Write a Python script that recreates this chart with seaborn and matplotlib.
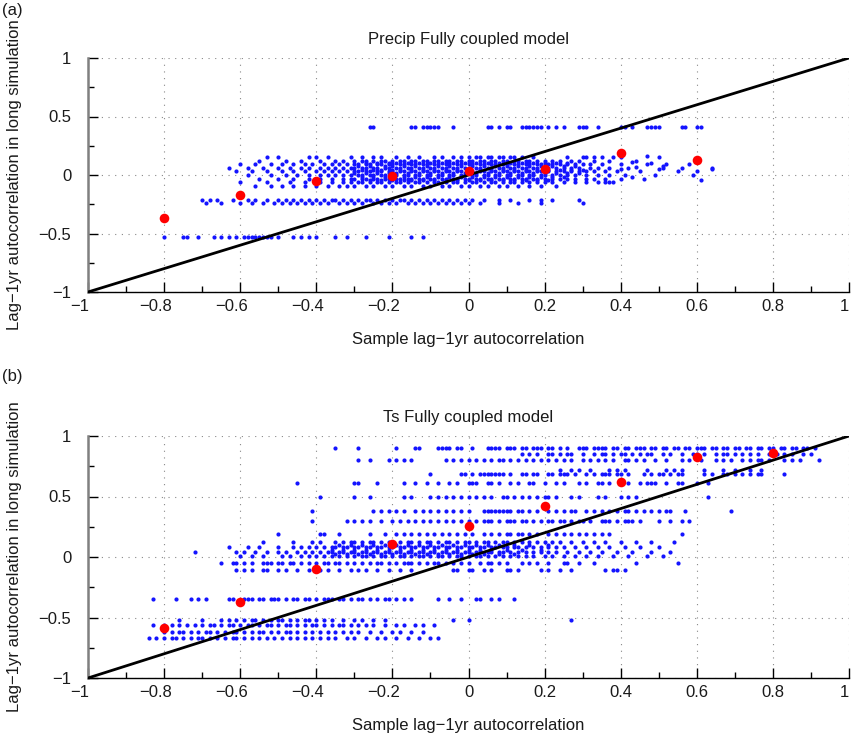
import matplotlib
matplotlib.use("Agg")
import matplotlib.pyplot as plt
import matplotlib.transforms as mtransforms
import seaborn as sns
import pandas as pd
from matplotlib.ticker import MultipleLocator, FuncFormatter

sns.set_theme(style="white")
plt.rcParams['font.family'] = ['Liberation Sans', 'DejaVu Sans']

# ---------------- data (x values in hundredths, grouped by y level in tenths of hundredths) ----
# Panel (a): Precip
A_41 = [-26,-25,-15,-14,-12,-11,-10,-9,-8,-4,5,6,8,10,11,14,15,16,17,18,19,21,23,25,29,30,31,34,40,41,43,47,48,49,50,56,57,60,61]
A_15 = [-53,-50,-42,-40,-37,-31,-28,-25,-23,-19,-16,-13,-9,-7,-4,-2,0,2,3,5,6,8,9,11,12,14,17,26,30,31,33,35,40,50]
A_12 = [-55,-48,-44,-39,-35,-33,-30,-28,-27,-25,-23,-22,-20,-18,-17,-15,-14,-12,-11,-9,-8,-6,-5,-3,-2,0,1,3,4,6,7,9,10,12,13,15,16,18,20,22,24,27,29,33,37,44]
A_105 = [-27,-24,-21,-19,-16,-13,-10,-7,-4,-1,2,5,8,11,14,17,20,23,26]
A_09 = [-60,-56,-52,-49,-46,-43,-41,-38,-36,-34,-32,-30,-29,-27,-26,-24,-23,-21,-20,-18,-17,-15,-14,-12,-11,-9,-8,-6,-5,-3,-2,0,1,3,4,6,7,9,10,12,13,15,16,18,19,21,22,24,26,28,30,32,35,40,47,52,58]
A_075 = [-29,-26,-22,-20,-17,-14,-11,-8,-5,-2,1,4,7,10,13,16,19,22,25,28]
A_06 = [-63,-58,-54,-50,-47,-44,-42,-39,-37,-35,-33,-31,-30,-28,-27,-25,-24,-22,-21,-19,-18,-16,-15,-13,-12,-10,-9,-7,-6,-4,-3,-1,0,2,3,5,6,8,9,11,12,14,15,17,18,20,21,23,25,27,29,32,34,37,42,51,56,64]
A_045 = [-28,-25,-23,-20,-18,-15,-12,-9,-6,-3,0,3,6,9,12,15,18,21,24,27,30]
A_03 = [-61,-57,-53,-49,-46,-43,-40,-38,-36,-34,-32,-30,-29,-27,-26,-24,-23,-21,-20,-18,-17,-15,-14,-12,-11,-9,-8,-6,-5,-3,-2,0,1,3,4,6,7,9,10,12,13,15,16,18,19,21,23,25,27,29,31,33,36,39,45,55,60]
A_015 = [-30,-27,-24,-21,-19,-16,-13,-10,-7,-4,-1,2,5,8,11,14,17,20,23,26,29]
A_00 = [-58,-52,-48,-45,-42,-39,-37,-35,-33,-31,-29,-28,-26,-25,-23,-22,-20,-19,-17,-16,-14,-13,-11,-10,-8,-7,-5,-4,-2,-1,1,2,4,5,7,8,10,11,13,14,16,17,19,20,22,24,26,28,31,34,37,41,49,59]
A_m015 = [-28,-25,-22,-20,-17,-14,-11,-8,-5,-2,1,4,7,10,13,16,19,22,25]
A_m03 = [-55,-50,-46,-42,-39,-36,-33,-31,-30,-28,-27,-25,-24,-22,-21,-19,-18,-16,-15,-13,-12,-10,-9,-7,-6,-4,-3,-1,0,2,3,5,6,8,9,11,12,14,15,17,18,20,22,24,26,28,31,33,36,40,46]
A_m045 = [-26,-23,-20,-17,-15,-12,-9,-6,-3,0,3,6,9,12,15,18,21]
A_m06 = [-60,-53,-47,-43,-39,-36,-33,-31,-29,-28,-26,-24,-23,-21,-19,-18,-16,-14,-13,-11,-9,-8,-6,-4,-3,-1,1,2,4,6,7,9,11,12,14,16,18,20,22,25,28,31,34,36,37,38]
A_m09 = [-56,-52,-49,-46,-43,-40,-37,-34,-32,-30,-27,-25,-22,-20,-17,-15,-12,-10,-7,-5,-2,0,3,5,8,10,13,16,19,23]
A_m21 = [-70,-68,-66,-62,-58,-56,-53,-50,-48,-46,-44,-42,-40,-38,-36,-35,-33,-31,-29,-27,-26,-24,-22,-20,-18,-17,-15,-13,-11,-9,-7,-5,-3,-1,1,4,8,11,16,19,22,29]
A_m24 = [-69,-65,-60,-57,-54,-51,-49,-47,-45,-43,-41,-39,-37,-34,-32,-30,-28,-25,-23,-21,-19,-16,-14,-12,-10,-8,-6,-4,-2,0,3,8,13,19,30]
A_m53 = [-80,-75,-74,-71,-67,-65,-63,-61,-59,-58,-57,-56,-55,-54,-53,-52,-50,-46,-44,-42,-40,-35,-32,-27,-21,-15,-12]
A_tail_x = [38,40,43,43,44,47,48,50,51,61,64]
A_tail_y = [15,5,11,-2,7,16,10,5,8,-4,5]
A_red_x = [-0.8, -0.6, -0.4, -0.2, 0.0, 0.2, 0.4, 0.6]
A_red_y = [-0.37, -0.17, -0.055, -0.01, 0.035, 0.055, 0.185, 0.13]

# Panel (b): Ts
B_90 = [-35,-29,-19,-14,-13,-8,-7,-6,-5,-3,-2,1,5,6,7,8,10,11,12,14,15,17,18,19,21,22,24,26,29,30,31,33,34,35,36,38,39,41,42,44,45,46,48,49,51,52,54,55,57,58,60,61,62,64,65,67,68,70,71,73,74,76,77,79,80,82,83,85,86,88,89,91]
B_85 = [14,16,18,21,22,24,26,27,30,33,35,36,38,40,41,43,45,47,48,51,53,56,59,60,62,65,67,68,70,72,74,76,79,81,83,85,88,90]
B_80 = [-29,-26,-21,-19,-17,-15,-6,-4,-2,0,2,4,6,8,9,11,13,15,17,19,21,23,25,27,30,32,34,36,38,41,42,44,46,49,52,56,58,61,65,67,69,72,74,76,77,79,83,85,87,92]
B_72 = [24,27,29,32,37,39,41,47,52,54,56,62,67,70,74,77]
B_69 = [-10,-2,-1,1,3,4,5,6,7,8,9,11,14,15,17,18,21,22,24,25,26,28,31,33,35,36,37,39,40,42,46,48,50,51,53,55,56,62,64,67,68,70,72,74,76,77,83]
B_61 = [-45,-30,-29,-24,-17,-14,-11,-8,-5,-3,0,1,2,5,6,8,11,13,16,17,20,23,25,29,31,34,35,37,40,42,45,47,48,49,52,55,56,60,63]
B_50 = [-39,-30,-26,-17,-15,-10,-8,-6,-4,-2,0,2,4,6,9,10,12,14,16,18,20,21,23,27,29,34,36,40,42,44,63]
B_38 = [-41,-25,-23,-21,-19,-17,-14,-12,-10,-8,-6,-4,-2,0,4,5,6,7,8,9,10,11,13,14,16,18,21,23,25,27,28,31,33,35,37,39,41,42,44,46,48,50,52,53,57,69]
B_30 = [-41,-32,-30,-28,-26,-23,-20,-18,-16,-14,-12,-10,-8,-6,-4,-2,0,2,4,5,6,8,10,11,12,14,15,17,19,21,22,24,25,27,29,30,32,35,36,37,39,41,42,43,45,50,53,56,58]
B_19 = [-50,-39,-38,-34,-26,-22,-19,-17,-15,-13,-11,-9,-7,-5,-3,-1,1,4,6,8,10,11,13,14,16,18,21,23,25,27,29,31,33,35,37,56]
B_12 = [-54,-46,-41,-39,-35,-33,-31,-30,-28,-26,-25,-23,-21,-20,-18,-16,-15,-13,-11,-10,-8,-6,-5,-3,-1,0,2,4,5,7,9,10,12,14,16,18,20,22,24,27,30,33,36,40,44,48,54]
B_10 = [-34,-31,-28,-25,-22,-19,-16,-13,-10,-7,-4,-1,2,5,8,12,16,21]
B_08 = [-63,-58,-55,-50,-46,-44,-42,-40,-38,-36,-35,-33,-32,-30,-29,-27,-26,-24,-23,-21,-20,-18,-17,-15,-14,-12,-11,-9,-8,-6,-5,-3,-2,0,1,3,4,6,7,9,10,12,13,15,17,19,21,23,25,28,31,34,37,41,45,50]
B_06 = [-36,-33,-30,-27,-24,-21,-18,-15,-12,-9,-6,-3,0,3,6,10,14,19]
B_04 = [-72,-61,-59,-56,-53,-50,-48,-45,-43,-41,-39,-37,-36,-34,-33,-31,-30,-28,-27,-25,-24,-22,-21,-19,-18,-16,-15,-13,-12,-10,-9,-7,-6,-4,-3,-1,0,2,3,5,6,8,9,11,13,15,17,19,21,23,26,29,32,35,39,43,48,53]
B_02 = [-35,-32,-29,-26,-23,-20,-17,-14,-11,-8,-5,-2,1,4,8,12]
B_01 = [-60,-57,-54,-49,-47,-44,-42,-40,-38,-36,-34,-32,-30,-28,-27,-25,-23,-22,-20,-18,-17,-15,-13,-12,-10,-8,-7,-5,-3,-2,0,2,3,5,7,9,11,13,15,17,20,22,25,28,31,34,38,42,47,51]
B_m05 = [-65,-62,-61,-59,-57,-54,-53,-52,-50,-49,-47,-46,-44,-42,-40,-38,-37,-35,-34,-32,-30,-28,-26,-24,-23,-21,-19,-17,-16,-15,-13,-11,-9,-8,-6,-4,-2,0,3,5,6,8,10,14,16,18,21,25,26,29,33,44,55]
B_m11 = [-61,-59,-57,-54,-53,-50,-48,-45,-42,-39,-37,-34,-31,-29,-27,-24,-21,-18,-15,-4,-3,0,1,4,6,10,11,13,19,21,24,27,36,38,39,41]
B_m35 = [-83,-77,-73,-71,-69,-63,-62,-59,-58,-57,-55,-54,-52,-51,-50,-48,-46,-45,-43,-42,-40,-38,-37,-36,-34,-33,-31,-29,-28,-26,-24,-22,-21,-19,-17,-15,-8,-5,-2,2,3,6,8,12]
B_m52 = [-76,-70,-65,-63,-61,-59,-57,-56,-54,-52,-50,-49,-47,-45,-43,-42,-40,-38,-36,-33,-30,-28,-25,-22,-4,0,27]
B_m56 = [-83,-80,-78,-76,-74,-72,-70,-68,-67,-65,-63,-62,-60,-58,-57,-55,-53,-52,-50,-48,-47,-45,-43,-41,-40,-38,-36,-34,-33,-31,-29,-27,-25,-22,-19,-17,-14,-12,-9]
B_m62 = [-80,-78,-76,-75,-73,-71,-69,-68,-66,-64,-62,-61,-59,-57,-55,-54,-52,-50,-48,-47,-45,-43,-41,-39,-37,-35,-33,-31,-29,-26,-23,-20,-18,-15,-12]
B_m67 = [-84,-82,-80,-78,-77,-75,-73,-71,-70,-68,-66,-64,-62,-61,-59,-57,-55,-53,-51,-49,-47,-45,-43,-41,-39,-37,-35,-32,-30,-27,-24,-22,-19,-16,-13,-10,-8]
B_red_x = [-0.8, -0.6, -0.4, -0.2, 0.0, 0.2, 0.4, 0.6, 0.8]
B_red_y = [-0.585, -0.375, -0.10, 0.11, 0.26, 0.42, 0.62, 0.83, 0.86]

diag_x = [-1.0, 1.0]
diag_y = [-1.0, 1.0]

titles = ["Precip Fully coupled model", "Ts Fully coupled model"]
panel_tags = ["(a)", "(b)"]
xlabel = "Sample lag\u22121yr autocorrelation"
ylabel = "Lag\u22121yr autocorrelation in long simulation"

# y levels below are in thousandths
A_rows = [(410, A_41), (150, A_15), (120, A_12), (105, A_105), (90, A_09), (75, A_075),
          (60, A_06), (45, A_045), (30, A_03), (15, A_015), (0, A_00), (-15, A_m015),
          (-30, A_m03), (-45, A_m045), (-60, A_m06), (-90, A_m09), (-210, A_m21),
          (-240, A_m24), (-530, A_m53)]
B_rows = [(900, B_90), (850, B_85), (800, B_80), (720, B_72), (690, B_69), (610, B_61),
          (500, B_50), (380, B_38), (300, B_30), (190, B_19), (120, B_12), (100, B_10),
          (80, B_08), (60, B_06), (40, B_04), (25, B_02), (10, B_01), (-50, B_m05),
          (-110, B_m11), (-350, B_m35), (-520, B_m52), (-560, B_m56), (-620, B_m62),
          (-670, B_m67)]


def rows_to_df(rows, extra_x=(), extra_y=()):
    xs, ys = [], []
    for yv, xl in rows:
        xs += [v / 100 for v in xl]
        ys += [yv / 1000] * len(xl)
    xs += [v / 100 for v in extra_x]
    ys += [v / 100 for v in extra_y]
    return pd.DataFrame({"x": xs, "y": ys})


dfA = rows_to_df(A_rows, A_tail_x, A_tail_y)
dfB = rows_to_df(B_rows)


def fmt(v, pos):
    v = round(v, 2)
    if abs(v) < 1e-9:
        return "0"
    s = f"{v:g}"
    return s.replace("-", "\u2212")


W, H = 851, 734
FS = 12
TXT = "#1a1a1a"
fig = plt.figure(figsize=(W / 100, H / 100), dpi=100)
axA = fig.add_axes([88 / W, 1 - 292 / H, 761 / W, 234 / H])
axB = fig.add_axes([88 / W, 1 - 678 / H, 761 / W, 242 / H])

for ax, df, rx, ry, title in [(axA, dfA, A_red_x, A_red_y, titles[0]),
                               (axB, dfB, B_red_x, B_red_y, titles[1])]:
    ax.set_facecolor("white")
    sns.scatterplot(data=df, x="x", y="y", ax=ax, color="#1414ff", s=9, marker="o",
                    linewidth=0, zorder=2)
    sns.lineplot(x=diag_x, y=diag_y, ax=ax, color="black", linewidth=2, zorder=3)
    sns.scatterplot(x=rx, y=ry, ax=ax, color="#ff0000", s=48, linewidth=0, zorder=4)
    ax.set_xlim(-1, 1)
    ax.set_ylim(-1, 1)
    ax.xaxis.set_major_locator(MultipleLocator(0.2))
    ax.xaxis.set_minor_locator(MultipleLocator(0.1))
    ax.yaxis.set_major_locator(MultipleLocator(0.5))
    ax.yaxis.set_minor_locator(MultipleLocator(0.25))
    ax.xaxis.set_major_formatter(FuncFormatter(fmt))
    ax.yaxis.set_major_formatter(FuncFormatter(fmt))
    ax.tick_params(which="both", direction="in", top=False, right=False,
                   bottom=True, left=True, colors="black", labelcolor=TXT)
    ax.tick_params(which="major", length=7, width=1, labelsize=FS)
    ax.tick_params(which="minor", length=4, width=1)
    ax.tick_params(axis="x", which="major", pad=5)
    ax.tick_params(axis="y", which="major", pad=12)
    ax.grid(True, which="major", linestyle=(0, (1, 5)), color="#888888", linewidth=0.8)
    ax.set_axisbelow(True)
    for side in ["top", "right"]:
        ax.spines[side].set_visible(False)
    ax.spines["left"].set_color("#808080")
    ax.spines["left"].set_linewidth(1.8)
    ax.spines["bottom"].set_color("black")
    ax.spines["bottom"].set_linewidth(1.0)
    ax.set_title(title, fontsize=FS, pad=10, color=TXT)
    ax.set_xlabel(xlabel, fontsize=FS, labelpad=13, color=TXT)
    ax.set_ylabel(ylabel, fontsize=FS, labelpad=12, color=TXT)

fig.text(2 / W, 1 - 10 / H, panel_tags[0], fontsize=FS, va="center", ha="left", color=TXT)
fig.text(2 / W, 1 - 377 / H, panel_tags[1], fontsize=FS, va="center", ha="left", color=TXT)

# shift negative x tick labels left (minus sign hangs out, as in the reference) and
# keep the rightmost label inside the canvas
fig.canvas.draw()
for ax in (axA, axB):
    for lab in ax.get_xticklabels():
        t = lab.get_text()
        if t.startswith("\u2212"):
            dx = -6 / 72
        elif t == "1":
            dx = -3 / 72
        else:
            dx = 0
        if dx:
            lab.set_transform(lab.get_transform() +
                              mtransforms.ScaledTranslation(dx, 0, fig.dpi_scale_trans))

fig.savefig("out.png", dpi=100, facecolor="white")
